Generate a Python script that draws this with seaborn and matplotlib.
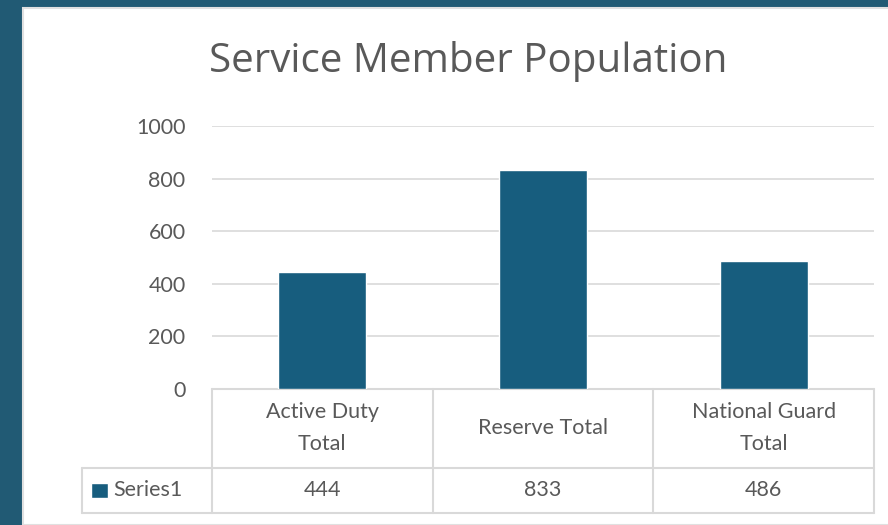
import matplotlib
matplotlib.use('Agg')
import matplotlib.pyplot as plt
from matplotlib.patches import Rectangle
from matplotlib.lines import Line2D
import pandas as pd
import seaborn as sns

# Chart data
categories = ['Active Duty\nTotal', 'Reserve Total', 'National Guard\nTotal']
values = [444, 833, 486]
series_name = 'Series1'
y_ticks = [0, 200, 400, 600, 800, 1000]

bar_color = '#175d7e'
back_color = '#215a74'
text_color = '#595959'
line_color = '#d9d9d9'

sns.set_style('white')
plt.rcParams['font.family'] = ['Lato', 'DejaVu Sans']

df = pd.DataFrame({'category': categories, 'value': values})

fig = plt.figure(figsize=(8.88, 5.25), dpi=100)
fig.patch.set_facecolor(back_color)
W, H = 888, 525

# white chart panel
fig.add_artist(Rectangle((23 / W, 0), 1, 1 - 8 / H, transform=fig.transFigure,
                         facecolor='white', edgecolor='#e0e0e0', lw=1.5, zorder=0))

ax = fig.add_axes([212 / W, 1 - 389 / H, 662 / W, 263 / H])
ax.set_facecolor('white')
sns.barplot(data=df, x='category', y='value', color=bar_color, width=0.4,
            saturation=1, ax=ax, zorder=3)
ax.set_ylim(0, 1000)
ax.set_xlim(-0.5, 2.5)
ax.set_yticks(y_ticks)
ax.set_yticklabels([str(t) for t in y_ticks], fontsize=15.5, color=text_color)
ax.tick_params(axis='y', length=0, pad=19)
ax.set_xticks([])
ax.set_xlabel('')
ax.set_ylabel('')
for s in ax.spines.values():
    s.set_visible(False)
ax.yaxis.grid(True, color=line_color, lw=1.2, zorder=0)
ax.set_axisbelow(True)

fig.text(468 / W, 1 - 61 / H, 'Service Member Population', ha='center',
         va='center', fontsize=29, color=text_color, family=['Open Sans', 'DejaVu Sans'])

# data table under the axis
tr = ax.get_xaxis_transform()
row1 = -79 / 263
row2 = -124 / 263
left = -0.5 - 130 / 220
lkw = dict(transform=tr, color=line_color, lw=1.5, clip_on=False)
ax.add_line(Line2D([-0.5, 2.5], [0, 0], **lkw))
ax.add_line(Line2D([left, 2.5], [row1, row1], **lkw))
ax.add_line(Line2D([left, 2.5], [row2, row2], **lkw))
ax.add_line(Line2D([left, left], [row1, row2], **lkw))
for i in range(len(categories) + 1):
    ax.add_line(Line2D([i - 0.5, i - 0.5], [0, row2], **lkw))

for i, (cat, val) in enumerate(zip(categories, values)):
    ax.text(i, row1 / 2, cat, transform=tr, ha='center', va='center',
            fontsize=15.5, color=text_color, linespacing=1.75)
    ax.text(i, (row1 + row2) / 2, str(val), transform=tr, ha='center',
            va='center', fontsize=15.5, color=text_color)

ax.add_patch(Rectangle((left + 9 / 220, (row1 + row2) / 2 - 0.03), 17 / 220, 0.06,
                       transform=tr, facecolor=bar_color, clip_on=False))
ax.text(left + 32 / 220, (row1 + row2) / 2, series_name, transform=tr,
        ha='left', va='center', fontsize=15.5, color=text_color)

fig.savefig('out.png', dpi=100, facecolor=fig.get_facecolor())
